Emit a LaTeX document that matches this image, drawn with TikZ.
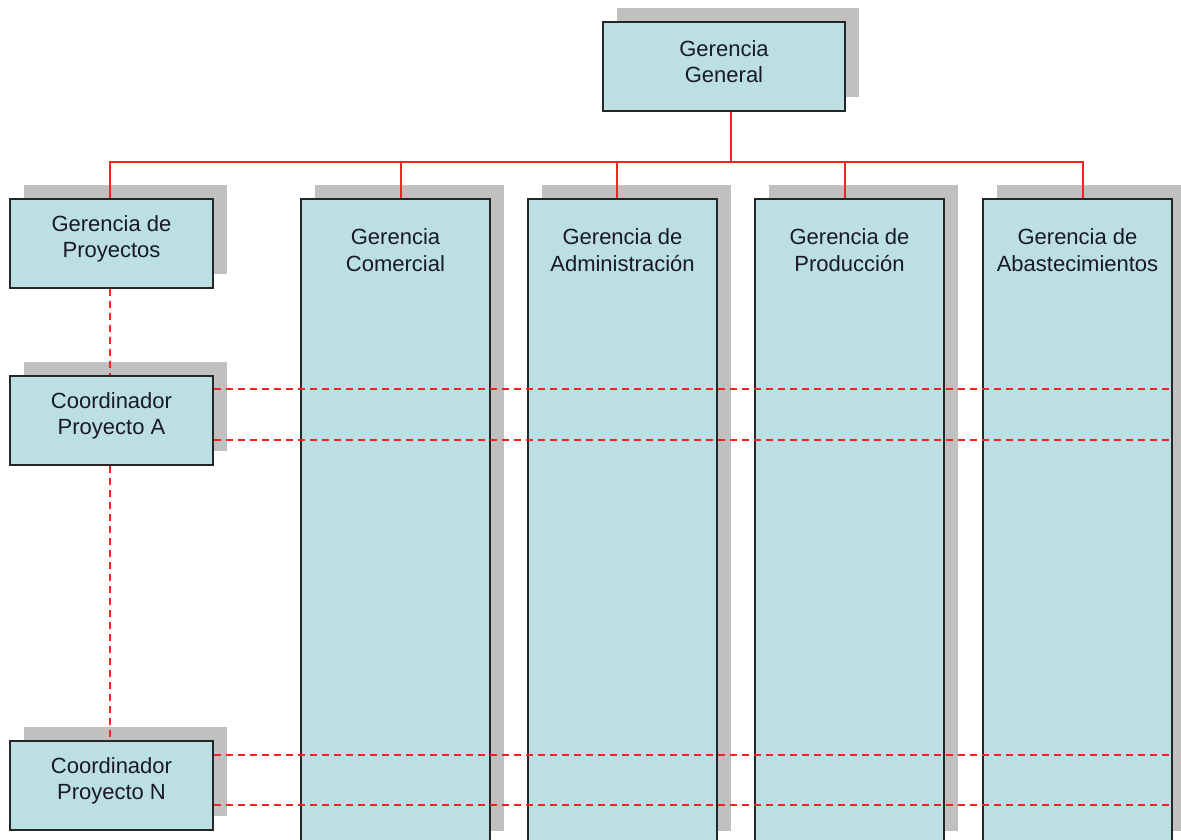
\documentclass[tikz,border=0pt]{standalone}
\usepackage{fontspec}
\setmainfont{Liberation Sans}
\usetikzlibrary{shadows}
\definecolor{boxfill}{RGB}{187,223,227}
\definecolor{shadowgray}{RGB}{192,192,192}
\definecolor{linered}{RGB}{245,35,35}
\definecolor{txt}{RGB}{25,25,40}
\begin{document}
\begin{tikzpicture}[x=1pt,y=-1pt,
  box/.style={draw=black!85, line width=1.5pt, fill=boxfill,
    general shadow={fill=shadowgray, shadow xshift=14pt, shadow yshift=14pt},
    minimum width=#1, inner sep=0pt},
  smallbox/.style={box=#1, minimum height=89pt},
  colbox/.style={box=189pt, minimum height=646pt},
  lbl/.style={font=\fontsize{22}{26.5}\selectfont, text=txt, align=center, inner sep=0pt},
  redl/.style={draw=linered, line width=1.3pt},
  redd/.style={draw=linered, line width=1.3pt, dash pattern=on 7pt off 5pt}]
\useasboundingbox (0,0) rectangle (1181,839);
\clip (0,0) rectangle (1181,839);
\fill[white] (0,0) rectangle (1181,839);

% top box
\node[smallbox=242pt, label={[lbl, yshift=5pt]center:Gerencia\\General}] (GG) at (724,66.5) {};
\coordinate (bus) at (731,162);

% left column
\node[smallbox=203pt, label={[lbl, yshift=4.5pt]center:Gerencia de\\Proyectos}] (GP) at (111.5,243.5) {};
\node[smallbox=203pt, label={[lbl, yshift=4.5pt]center:Coordinador\\Proyecto A}] (CA) at (111.5,420.5) {};
\node[smallbox=203pt, label={[lbl, yshift=4.5pt]center:Coordinador\\Proyecto N}] (CN) at (111.5,785.5) {};

% column boxes
\node[colbox, label={[lbl, anchor=center, yshift=-52pt]north:Gerencia\\Comercial}] (COM) at (395.5,522) {};
\node[colbox, label={[lbl, anchor=center, yshift=-52pt]north:Gerencia de\\Administración}] (ADM) at (622.5,522) {};
\node[colbox, label={[lbl, anchor=center, yshift=-52pt]north:Gerencia de\\Producción}] (PRO) at (849.5,522) {};
\node[colbox, label={[lbl, anchor=center, yshift=-52pt]north:Gerencia de\\Abastecimientos}] (ABA) at (1077.5,522) {};

% solid connectors
\draw[redl] ([xshift=7pt]GG.south) -- (bus);
\draw[redl] ([xshift=-1.5pt]GP.north) -- ([xshift=-1.5pt]GP.north |- bus) -- ([xshift=5.5pt]ABA.north |- bus) -- ([xshift=5.5pt]ABA.north);
\draw[redl] ([xshift=5.5pt]COM.north |- bus) -- ([xshift=5.5pt]COM.north);
\draw[redl] ([xshift=-5.5pt]ADM.north |- bus) -- ([xshift=-5.5pt]ADM.north);
\draw[redl] ([xshift=-4.5pt]PRO.north |- bus) -- ([xshift=-4.5pt]PRO.north);

% dashed connectors
\draw[redd] ([xshift=-1.5pt]GP.south) -- ([xshift=-1.5pt]CA.north);
\draw[redd] ([xshift=-1.5pt]CA.south) -- ([xshift=-1.5pt]CN.north);
\draw[redd] ([yshift=31.5pt]CA.east) -- ([yshift=31.5pt,xshift=-2pt]CA.east -| ABA.east);
\draw[redd] ([yshift=-19.5pt]CA.east) -- ([yshift=-19.5pt,xshift=-2pt]CA.east -| ABA.east);
\draw[redd] ([yshift=30.5pt]CN.east) -- ([yshift=30.5pt,xshift=-2pt]CN.east -| ABA.east);
\draw[redd] ([yshift=-19.5pt]CN.east) -- ([yshift=-19.5pt,xshift=-2pt]CN.east -| ABA.east);
\end{tikzpicture}
\end{document}
